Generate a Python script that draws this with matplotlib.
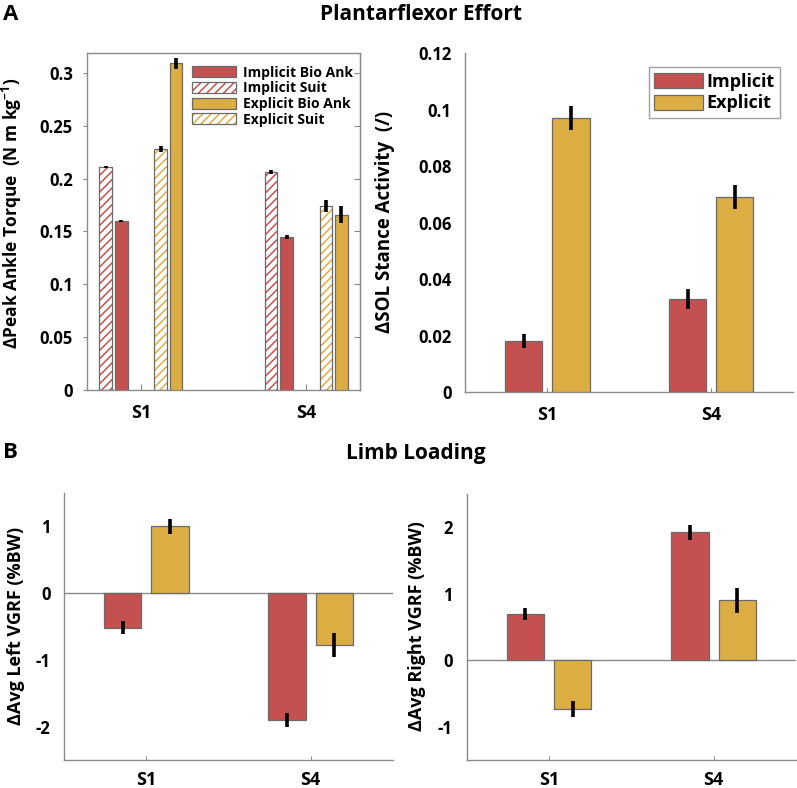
import matplotlib.pyplot as plt
import numpy as np
from matplotlib.patches import Patch
from matplotlib.legend_handler import HandlerTuple

plt.rcParams['font.family'] = ['Open Sans', 'DejaVu Sans']
plt.rcParams['font.weight'] = 'bold'
plt.rcParams['axes.unicode_minus'] = False
plt.rcParams['hatch.linewidth'] = 1.1
plt.rcParams['mathtext.fontset'] = 'custom'
plt.rcParams['mathtext.rm'] = 'Open Sans:bold'
plt.rcParams['mathtext.bf'] = 'Open Sans:bold'

RED = '#C4514F'
GOLD = '#DCAD42'
EDGE = '#6a6a6a'
SPINE = '#8a8a8a'

subjects = ['S1', 'S4']

# Peak ankle torque (N m kg^-1)
torque_imp_suit = [0.211, 0.206]
torque_imp_suit_err = [0.001, 0.002]
torque_imp_bio = [0.160, 0.145]
torque_imp_bio_err = [0.001, 0.002]
torque_exp_suit = [0.228, 0.174]
torque_exp_suit_err = [0.003, 0.006]
torque_exp_bio = [0.309, 0.166]
torque_exp_bio_err = [0.005, 0.008]

# SOL stance activity
sol_imp = [0.018, 0.033]
sol_imp_err = [0.0025, 0.0035]
sol_exp = [0.097, 0.069]
sol_exp_err = [0.0042, 0.0043]

# Limb loading (%BW)
left_imp = [-0.52, -1.90]
left_imp_err = [0.10, 0.11]
left_exp = [1.00, -0.78]
left_exp_err = [0.11, 0.18]
right_imp = [0.69, 1.92]
right_imp_err = [0.09, 0.11]
right_exp = [-0.73, 0.90]
right_exp_err = [0.12, 0.19]

x = np.arange(1, len(subjects) + 1)

fig = plt.figure(figsize=(7.97, 7.88), dpi=100)
ax1 = fig.add_axes([0.109, 0.505, 0.343, 0.428])
ax2 = fig.add_axes([0.584, 0.5025, 0.411, 0.430])
ax3 = fig.add_axes([0.0807, 0.0355, 0.412, 0.339])
ax4 = fig.add_axes([0.5856, 0.0355, 0.413, 0.338])


def errbar(ax, xs, ys, errs):
    ax.errorbar(xs, ys, yerr=errs, fmt='none', ecolor='black',
                elinewidth=2.6, capsize=0, zorder=5)


def hatched_bar(ax, xs, ys, w, color):
    with plt.rc_context({'hatch.color': color}):
        ax.bar(xs, ys, w, facecolor='white', edgecolor=None, linewidth=0,
               hatch='////', zorder=2)
    ax.bar(xs, ys, w, facecolor='none', edgecolor=EDGE, linewidth=0.9,
           zorder=3)


# Panel A left: peak ankle torque
w = 0.076
hatched_bar(ax1, x - 0.213, torque_imp_suit, w, RED)
ax1.bar(x - 0.118, torque_imp_bio, w, color=RED, edgecolor=EDGE,
        linewidth=0.9, zorder=3)
hatched_bar(ax1, x + 0.12, torque_exp_suit, w, GOLD)
ax1.bar(x + 0.213, torque_exp_bio, w, color=GOLD, edgecolor=EDGE,
        linewidth=0.9, zorder=3)
errbar(ax1, x - 0.213, torque_imp_suit, torque_imp_suit_err)
errbar(ax1, x - 0.118, torque_imp_bio, torque_imp_bio_err)
errbar(ax1, x + 0.12, torque_exp_suit, torque_exp_suit_err)
errbar(ax1, x + 0.213, torque_exp_bio, torque_exp_bio_err)
ax1.set_xlim(0.673, 2.327)
ax1.set_ylim(0, 0.319)
ax1.set_yticks([0, 0.05, 0.1, 0.15, 0.2, 0.25, 0.3])
ax1.set_yticklabels(['0', '0.05', '0.1', '0.15', '0.2', '0.25', '0.3'])
ax1.tick_params(axis='y', left=True, right=False, direction='out',
                length=3, color=SPINE)
ax1.tick_params(axis='x', bottom=True, top=False, direction='in',
                length=4, color=SPINE)
ax1r = ax1.secondary_yaxis('right')
ax1r.set_yticks([0.05, 0.1, 0.15, 0.2, 0.25, 0.3])
ax1r.tick_params(direction='in', length=4, color=SPINE, labelright=False)
ax1r.spines['right'].set_color(SPINE)

with plt.rc_context({'hatch.color': RED}):
    imp_suit_h = Patch(facecolor='white', edgecolor=None, linewidth=0,
                       hatch='////')
with plt.rc_context({'hatch.color': GOLD}):
    exp_suit_h = Patch(facecolor='white', edgecolor=None, linewidth=0,
                       hatch='////')
outline = Patch(facecolor='none', edgecolor=EDGE, linewidth=0.9)
handles = [Patch(facecolor=RED, edgecolor=EDGE, linewidth=0.9),
           (imp_suit_h, outline),
           Patch(facecolor=GOLD, edgecolor=EDGE, linewidth=0.9),
           (exp_suit_h, outline)]
labels = ['Implicit Bio Ank', 'Implicit Suit', 'Explicit Bio Ank',
          'Explicit Suit']
ax1.legend(handles, labels, loc='upper right', frameon=False,
           fontsize=10, handlelength=3.2, handleheight=0.85,
           handletextpad=0.5, labelspacing=0.12, borderpad=0,
           borderaxespad=0, bbox_to_anchor=(0.975, 0.962),
           handler_map={tuple: HandlerTuple(ndivide=1)})

# Panel A right: SOL stance activity
w2 = 0.228
ax2.bar(x - 0.144, sol_imp, w2, color=RED, edgecolor=EDGE, linewidth=0.9,
        label='Implicit', zorder=3)
ax2.bar(x + 0.144, sol_exp, w2, color=GOLD, edgecolor=EDGE, linewidth=0.9,
        label='Explicit', zorder=3)
errbar(ax2, x - 0.144, sol_imp, sol_imp_err)
errbar(ax2, x + 0.144, sol_exp, sol_exp_err)
ax2.set_xlim(0.5, 2.5)
ax2.set_ylim(0, 0.12)
ax2.set_yticks([0, 0.02, 0.04, 0.06, 0.08, 0.1, 0.12])
ax2.set_yticklabels(['0', '0.02', '0.04', '0.06', '0.08', '0.1', '0.12'])
ax2.tick_params(axis='y', length=0)
ax2.tick_params(axis='x', direction='in', length=3, color=SPINE)
leg = ax2.legend(loc='upper right', fontsize=13, handlelength=2.7,
                 handleheight=0.9, handletextpad=0.2, labelspacing=0.2,
                 borderpad=0.3, borderaxespad=0, fancybox=False,
                 edgecolor='#a0a0a0', framealpha=1,
                 bbox_to_anchor=(0.96, 0.958))
leg.get_frame().set_linewidth(1.0)

# Panel B: limb loading
for ax, imp, imp_e, exp, exp_e, ylim, ticks in [
        (ax3, left_imp, left_imp_err, left_exp, left_exp_err,
         (-2.5, 1.5), [-2, -1, 0, 1]),
        (ax4, right_imp, right_imp_err, right_exp, right_exp_err,
         (-1.5, 2.5), [-1, 0, 1, 2])]:
    ax.axhline(0, color=SPINE, linewidth=1.0, zorder=1)
    ax.bar(x - 0.144, imp, w2, color=RED, edgecolor=EDGE, linewidth=0.9,
           zorder=3)
    ax.bar(x + 0.144, exp, w2, color=GOLD, edgecolor=EDGE, linewidth=0.9,
           zorder=3)
    errbar(ax, x - 0.144, imp, imp_e)
    errbar(ax, x + 0.144, exp, exp_e)
    ax.set_xlim(0.5, 2.5)
    ax.set_ylim(*ylim)
    ax.set_yticks(ticks)
    ax.set_yticklabels([str(t) for t in ticks])
    ax.tick_params(axis='y', length=0)
    ax.tick_params(axis='x', direction='in', length=3, color=SPINE)

for ax in [ax1, ax2, ax3, ax4]:
    ax.set_xticks(x)
    ax.set_xticklabels(subjects, fontsize=13, fontweight='bold')
    for lab in ax.get_yticklabels():
        lab.set_fontsize(12)
        lab.set_fontweight('bold')
    for sp in ax.spines.values():
        sp.set_color(SPINE)
        sp.set_linewidth(1.0)

ax1.tick_params(axis='x', pad=10)
ax2.tick_params(axis='x', pad=10)
ax3.tick_params(axis='x', pad=8)
ax4.tick_params(axis='x', pad=8)
ax1.tick_params(axis='y', pad=7)
ax2.tick_params(axis='y', pad=10)
ax3.tick_params(axis='y', pad=10)
ax4.tick_params(axis='y', pad=10)

for ax in [ax2, ax3, ax4]:
    ax.spines['top'].set_visible(False)
    ax.spines['right'].set_visible(False)

# Axis labels
fig.text(12 / 797, 1 - 213 / 788, r'ΔPeak Ankle Torque  (N m kg$^{-1}$)',
         rotation=90, ha='center', va='center', fontsize=12.5,
         fontweight='bold')
fig.text(385 / 797, 1 - 222 / 788, 'ΔSOL Stance Activity  (/)',
         rotation=90, ha='center', va='center', fontsize=13.5,
         fontweight='bold')
fig.text(16 / 797, 1 - 626 / 788, 'ΔAvg Left VGRF (%BW)',
         rotation=90, ha='center', va='center', fontsize=13,
         fontweight='bold')
fig.text(417 / 797, 1 - 626 / 788, 'ΔAvg Right VGRF (%BW)',
         rotation=90, ha='center', va='center', fontsize=13,
         fontweight='bold')

# Panel letters and titles
fig.text(3 / 797, 1 - 15 / 788, 'A', ha='left', va='center', fontsize=16,
         fontweight='bold')
fig.text(421 / 797, 1 - 15 / 788, 'Plantarflexor Effort', ha='center',
         va='center', fontsize=15, fontweight='bold')
fig.text(3 / 797, 1 - 453 / 788, 'B', ha='left', va='center', fontsize=16,
         fontweight='bold')
fig.text(416 / 797, 1 - 453 / 788, 'Limb Loading', ha='center',
         va='center', fontsize=15, fontweight='bold')

fig.savefig('out.png', dpi=100)
